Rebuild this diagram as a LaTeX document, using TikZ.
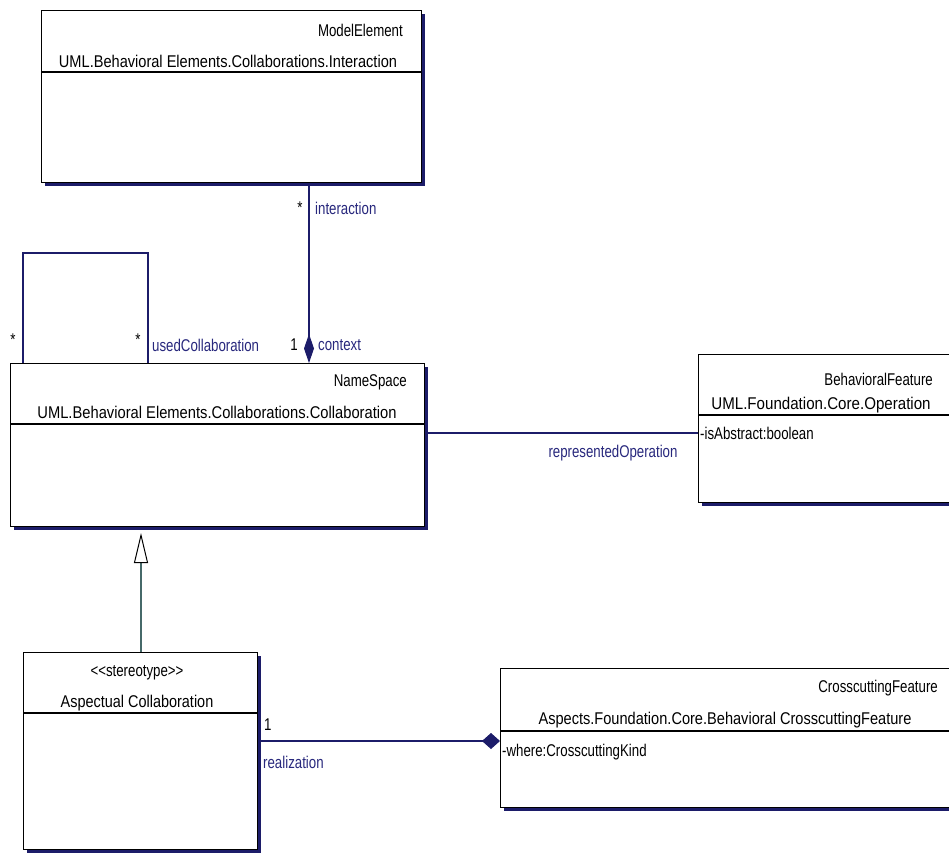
\documentclass[tikz,border=0pt]{standalone}
\usepackage{fontspec}
\setmainfont{Liberation Sans}[FakeStretch=0.78]
\usetikzlibrary{arrows.meta,shadows,calc}
\definecolor{navyline}{RGB}{28,28,105}
\definecolor{navytext}{RGB}{40,40,125}
\definecolor{genline}{RGB}{70,105,105}
\newcommand\myqn[2]{\scalebox{#1}[1]{#2}}
\tikzset{
  umlbox/.style={draw=black, fill=white, line width=1.1pt, inner sep=0pt,
    drop shadow={shadow xshift=3pt, shadow yshift=-3pt, fill=navyline, opacity=1}},
  divider/.style={draw=black, line width=1.1pt},
  boxtxt/.style={inner sep=0pt, font=\fontsize{17}{19}\selectfont, text=black},
  roletxt/.style={inner sep=0pt, font=\fontsize{17}{19}\selectfont, text=navytext},
  assoc/.style={draw=navyline, line width=1.1pt},
  gen/.style={draw=genline, line width=1.1pt},
}
\begin{document}
\begin{tikzpicture}[x=1pt,y=-1pt]
\useasboundingbox (0,0) rectangle (949,853);
\fill[white] (0,0) rectangle (949,853);

% ---- boxes
\node[umlbox, minimum width=380pt, minimum height=172pt, anchor=north west] (inter) at (41,10) {};
\node[umlbox, minimum width=414pt, minimum height=163pt, anchor=north west] (collab) at (10,363) {};
\node[umlbox, minimum width=262pt, minimum height=148pt, anchor=north west] (oper) at (698,354) {};
\node[umlbox, minimum width=234pt, minimum height=197pt, anchor=north west] (aspect) at (23,652) {};
\node[umlbox, minimum width=460pt, minimum height=139pt, anchor=north west] (cross) at (500,668) {};

% ---- dividers
\draw[divider] (41,72) -- (421,72);
\draw[divider] (10,424) -- (424,424);
\draw[divider] (698,415) -- (960,415);
\draw[divider] (23,713) -- (257,713);
\draw[divider] (500,731) -- (960,731);

% ---- box texts
\node[boxtxt, anchor=east] (t1a) at (403,30) {ModelElement};
\node[boxtxt] (t1b) at (228,61) {\myqn{1.1}{UML.Behavioral Elements.Collaborations.Interaction}};
\node[boxtxt, anchor=east] (t2a) at (407,382) {NameSpace};
\node[boxtxt] (t2b) at (217,412) {\myqn{1.11}{UML.Behavioral Elements.Collaborations.Collaboration}};
\node[boxtxt, anchor=east] (t3a) at (933,379) {BehavioralFeature};
\node[boxtxt] (t3b) at (821,405) {\myqn{1.14}{UML.Foundation.Core.Operation}};
\node[boxtxt, anchor=west] (t3c) at (700,433) {-isAbstract:boolean};
\node[boxtxt] (t4a) at (137,673) {<{}<stereotype>{}>};
\node[boxtxt] (t4b) at (137,703) {\myqn{1.09}{Aspectual Collaboration}};
\node[boxtxt, anchor=east] (t5a) at (938,688) {CrosscuttingFeature};
\node[boxtxt] (t5b) at (725,720) {\myqn{1.1}{Aspects.Foundation.Core.Behavioral CrosscuttingFeature}};
\node[boxtxt, anchor=west] (t5c) at (502,752) {-where:CrosscuttingKind};

% ---- connector anchors
\coordinate (iA) at (inter.south -| 309,0);
\coordinate (cA) at (collab.north -| 309,0);
\coordinate (l1) at (collab.north -| 23,0);
\coordinate (l2) at (23,253);
\coordinate (l3) at (148,253);
\coordinate (l4) at (collab.north -| 148,0);
\coordinate (rA) at (collab.east |- 0,433);
\coordinate (rB) at (oper.west |- 0,433);
\coordinate (gA) at (aspect.north -| 141,0);
\coordinate (gB) at (141,533);
\coordinate (zA) at (aspect.east |- 0,741);
\coordinate (zB) at (cross.west |- 0,741);

% interaction / context (composition)
\draw[assoc, -{Diamond[length=29pt, width=10pt, fill=navyline]}] (iA) -- (cA);
\node[roletxt, text=black] (m1) at (300,208) {*};
\node[roletxt, anchor=west] (r1) at (315,208) {interaction};
\node[roletxt, text=black] (m2) at (294,345) {1};
\node[roletxt, anchor=west] (r2) at (318,345) {context};

% self association
\draw[assoc] (l1) -- (l2) -- (l3) -- (l4);
\node[roletxt, text=black] (m3) at (13,340) {*};
\node[roletxt, text=black] (m4) at (138,340) {*};
\node[roletxt, anchor=west] (r3) at (152,345) {usedCollaboration};

% represented operation
\draw[assoc] (rA) -- (rB);
\node[roletxt] (r4) at (613,453) {representedOperation};

% generalization
\draw[gen, -{Triangle[open, length=30pt, width=14pt, color=black, line width=1pt]}] (gA) -- (gB);

% realization (composition)
\draw[assoc, -{Diamond[length=18pt, width=16pt, fill=navyline]}] (zA) -- (zB);
\node[roletxt, text=black, anchor=west] (m5) at (264,725) {1};
\node[roletxt, anchor=west] (r5) at (263,762) {realization};
\end{tikzpicture}
\end{document}
